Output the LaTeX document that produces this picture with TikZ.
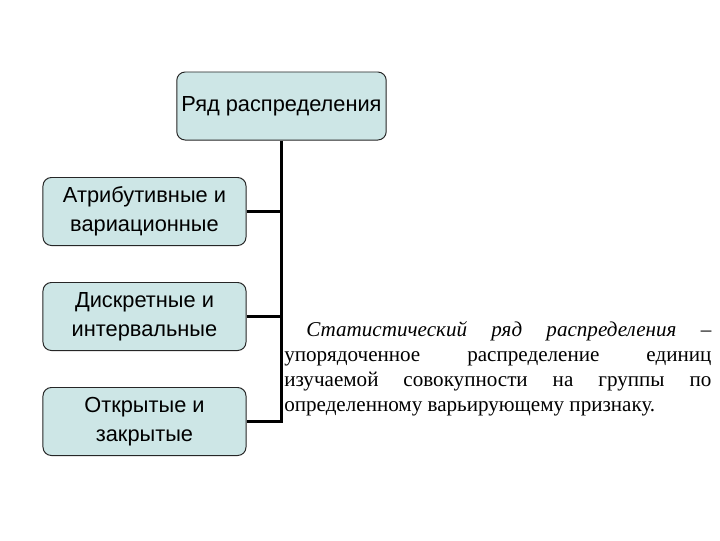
\documentclass[tikz,border=0pt]{standalone}
\usepackage{fontspec}
\setmainfont{Liberation Serif}
\setsansfont{Liberation Sans}
\usetikzlibrary{positioning}
\definecolor{boxfill}{RGB}{205,230,230}

\begin{document}
\begin{tikzpicture}[x=0.025cm, y=-0.025cm,
  box/.style={draw=black!85, rectangle, rounded corners=6pt, fill=boxfill, line width=0.7pt,
    minimum width=5.075cm, minimum height=1.7cm, align=center,
    font=\sffamily\fontsize{15.5}{20.5}\selectfont},
  link/.style={line width=1.7pt}]
\useasboundingbox (0,0) rectangle (720,540);
\node[box] (root) at (281.5,106) {Ряд распределения};
\node[box] (attr) at (144.5,211.5) {Атрибутивные и\\вариационные};
\node[box] (discr) at (144.5,316.5) {Дискретные и\\интервальные};
\node[box] (open) at (144.5,421.5) {Открытые и\\закрытые};
\draw[link] (root.south) |- (open.east);
\draw[link] (attr.east) -- (attr.east -| root.south);
\draw[link] (discr.east) -- (discr.east -| root.south);
% definition text
\node[anchor=north west, inner sep=0pt, text width=10.675cm, align=justify,
  font=\fontsize{15}{17.8}\selectfont] (defn) at (284,321)
  {\hyphenpenalty=10000\hspace*{0.55cm}\textit{Статистический ряд распределения} –\linebreak
   упорядоченное распределение единиц\linebreak
   изучаемой совокупности на группы по\linebreak
   определенному варьирующему признаку.};
\end{tikzpicture}
\end{document}
